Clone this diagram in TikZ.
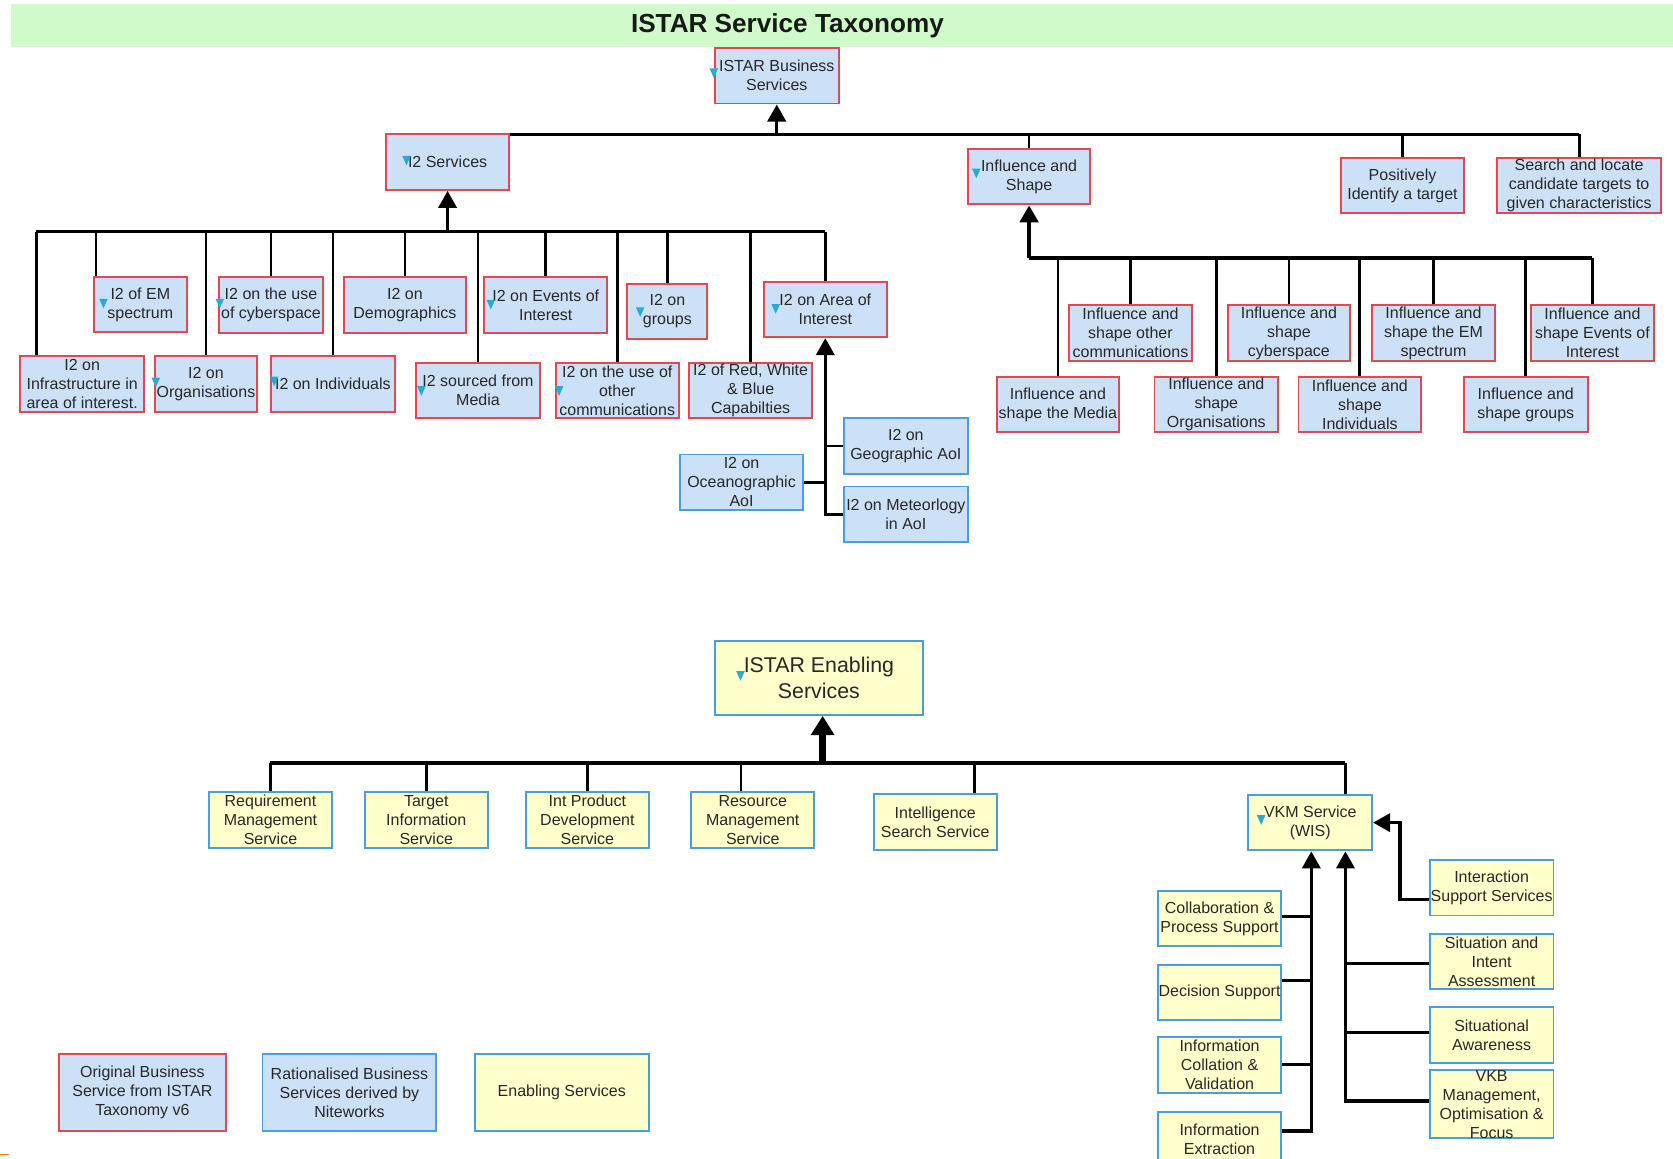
\documentclass[tikz,border=0pt]{standalone}
\usepackage{fontspec}
\setmainfont{Liberation Sans}
\usetikzlibrary{arrows.meta}
\definecolor{boxblue}{RGB}{204,224,247}
\definecolor{edgered}{RGB}{226,72,84}
\definecolor{edgeblue}{RGB}{74,158,224}
\definecolor{boxyellow}{RGB}{255,255,204}
\definecolor{banner}{RGB}{208,250,202}
\definecolor{cuecol}{RGB}{40,170,215}
\definecolor{ink}{RGB}{40,40,40}
% small cyan drop marker placed in front of a label
\newcommand\cue[2]{\fill[cuecol] (#1-4,#2-4) -- (#1+4,#2-4) -- (#1,#2+5) -- cycle;}
\begin{document}
\begin{tikzpicture}[x=1pt,y=-1pt,
  svc/.style={draw, line width=1.8pt, align=center, inner sep=0pt, minimum height=52pt,
              minimum width=115pt, text=ink, font=\fontsize{15}{17.8}\selectfont},
  orig/.style={svc, fill=boxblue, draw=edgered},
  rat/.style={svc, fill=boxblue, draw=edgeblue},
  enab/.style={svc, fill=boxyellow, draw=edgeblue},
  wire/.style={line width=2.6pt},
  busline/.style={line width=3.4pt},
  arr/.style={line width=3.2pt, -{Triangle[length=16pt,width=17pt]}},
  bigarr/.style={line width=6pt, -{Triangle[length=18pt,width=21pt]}},
]
\useasboundingbox (0,0) rectangle (1568,1086);

% title band
\node[fill=banner, minimum width=1558pt, minimum height=40pt, inner sep=0pt] (band) at (789,24) {};
\node[font=\fontsize{24.5}{28}\selectfont\bfseries, text=black!90] (title) at (738,24) {ISTAR Service Taxonomy};

% ---------- business services ----------
\node[orig, minimum width=116pt] (bus) at (728,71) {ISTAR Business\\Services};
\node[orig] (i2s) at (419.5,152) {I2 Services};
\node[orig] (ins) at (964.5,165.5) {Influence and\\Shape};
\node[orig] (pit) at (1314.5,174) {Positively\\Identify a target};
\node[orig, minimum width=154pt] (slc) at (1480,174) {Search and locate\\candidate targets to\\given characteristics};

\coordinate (topbus) at (728,126);
\draw[busline] (i2s.north east |- topbus) -- (slc.north |- topbus);
\draw[wire] (ins.north) -- (ins.north |- topbus);
\draw[wire] (pit.north) -- (pit.north |- topbus);
\draw[wire] (slc.north) -- (slc.north |- topbus);
\draw[arr] (topbus) -- (bus.south);

% I2 children
\node[orig, minimum width=87pt] (em) at (131.5,285.5) {I2 of EM\\spectrum};
\node[orig, minimum width=98pt] (cyb) at (254,286) {I2 on the use\\of cyberspace};
\node[orig] (dem) at (379.5,286) {I2 on\\Demographics};
\node[orig] (evt) at (511.5,286) {I2 on Events of\\Interest};
\node[orig, minimum width=75pt] (grp) at (625.5,292) {I2 on\\groups};
\node[orig] (aoi) at (773.5,290) {I2 on Area of\\Interest};
\node[orig, minimum width=116pt] (inf) at (77,360) {I2 on\\Infrastructure in\\area of interest.};
\node[orig, minimum width=96pt] (org) at (193,360) {I2 on\\Organisations};
\node[orig, minimum width=116pt] (ind) at (312,360) {I2 on Individuals};
\node[orig, minimum width=116pt] (med) at (448,366) {I2 sourced from\\Media};
\node[orig] (oth) at (578.5,366) {I2 on the use of\\other\\communications};
\node[orig] (rwb) at (703.5,366) {I2 of Red, White\\\& Blue\\Capabilties};

\coordinate (i2bus) at (419.5,217);
\coordinate (infc) at ([xshift=-43pt]inf.north);
\coordinate (emc) at ([xshift=-41.5pt]em.north);
\draw[busline] (infc |- i2bus) -- (aoi.north |- i2bus);
\draw[wire] (infc) -- (infc |- i2bus);
\draw[wire] (emc) -- (emc |- i2bus);
\foreach \n in {org,cyb,ind,dem,med,evt,oth,grp,rwb,aoi}
  \draw[wire] (\n.north) -- (\n.north |- i2bus);
\draw[arr] (i2bus) -- (i2s.south);

% area of interest breakdown
\node[rat, minimum width=116pt] (geo) at (849,418) {I2 on\\Geographic AoI};
\node[rat, minimum width=116pt] (oce) at (695,452) {I2 on\\Oceanographic\\AoI};
\node[rat, minimum width=116pt] (met) at (849,482) {I2 on Meteorlogy\\in AoI};
\draw[arr] (met.west) -| (aoi.south);
\draw[wire] (geo.west) -- (geo.west -| aoi.south);
\draw[wire] (oce.east) -- (oce.east -| aoi.south);

% influence and shape children
\node[orig] (ioc) at (1059.5,312) {Influence and\\shape other\\communications};
\node[orig] (icy) at (1208,312) {Influence and\\shape\\cyberspace};
\node[orig] (iem) at (1343.5,312) {Influence and\\shape the EM\\spectrum};
\node[orig] (iev) at (1492.5,312) {Influence and\\shape Events of\\Interest};
\node[orig] (imd) at (991.5,379) {Influence and\\shape the Media};
\node[orig, minimum width=116pt] (iog) at (1140,379) {Influence and\\shape\\Organisations};
\node[orig] (iid) at (1274.5,379) {Influence and\\shape\\Individuals};
\node[orig, minimum width=116pt] (igr) at (1430,379) {Influence and\\shape groups};

\coordinate (isbus) at (964.5,242);
\draw[line width=4.2pt] (isbus) -- (iev.north |- isbus);
\foreach \n in {imd,ioc,iog,icy,iid,iem,igr,iev}
  \draw[wire] (\n.north) -- (\n.north |- isbus);
\draw[arr, line width=4.2pt] (isbus) -- (ins.south);

% cue markers
\cue{669}{68}
\cue{381}{150}
\cue{915}{162}
\cue{97}{284}
\cue{206}{284}
\cue{460}{285}
\cue{600}{292}
\cue{727}{289}
\cue{146}{358}
\cue{257}{357}
\cue{395}{366}
\cue{524}{366}

% ---------- enabling services ----------
\node[enab, minimum width=195pt, minimum height=69pt, font=\fontsize{20}{24}\selectfont] (ena) at (767.5,635.5) {ISTAR Enabling\\Services};
\node[enab, minimum height=53pt] (req) at (253.5,768.5) {Requirement\\Management\\Service};
\node[enab, minimum height=53pt] (tgt) at (399.5,768.5) {Target\\Information\\Service};
\node[enab, minimum height=53pt] (ipd) at (550.5,768.5) {Int Product\\Development\\Service};
\node[enab, minimum height=53pt] (rsm) at (705.5,768.5) {Resource\\Management\\Service};
\node[enab] (iss) at (876.5,770.5) {Intelligence\\Search Service};
\node[enab, minimum width=116pt] (vkm) at (1228,771) {VKM Service\\(WIS)};
\cue{694}{633}
\cue{1182}{768}

\coordinate (enbus) at (771,715);
\coordinate (rsmc) at ([xshift=-11pt]rsm.north);
\coordinate (issc) at ([xshift=36.5pt]iss.north);
\coordinate (vkmc) at ([xshift=33pt]vkm.north);
\draw[busline] (req.north |- enbus) -- (vkmc |- enbus);
\foreach \n in {req,tgt,ipd}
  \draw[wire] (\n.north) -- (\n.north |- enbus);
\foreach \c in {rsmc,issc,vkmc}
  \draw[wire] (\c) -- (\c |- enbus);
\draw[bigarr] (enbus) -- (ena.south -| enbus);

% VKM breakdown
\node[enab, minimum width=116pt] (col) at (1143,861) {Collaboration \&\\Process Support};
\node[enab, minimum width=116pt] (dec) at (1143,930) {Decision Support};
\node[enab, minimum width=116pt] (icv) at (1143,998) {Information\\Collation \&\\Validation};
\node[enab, minimum width=116pt] (iex) at (1143,1068) {Information\\Extraction};
\node[enab, minimum width=116pt] (isv) at (1398,832) {Interaction\\Support Services};
\node[enab, minimum width=116pt] (sia) at (1398,901) {Situation and\\Intent\\Assessment};
\node[enab, minimum width=116pt] (saw) at (1398,970) {Situational\\Awareness};
\node[enab, minimum width=116pt] (vkb) at (1398,1035) {VKB\\Management,\\Optimisation \&\\Focus};

\coordinate (vl) at ([xshift=1pt]vkm.south);
\coordinate (vr) at ([xshift=33pt]vkm.south);
\coordinate (colp) at ([yshift=2pt]col.east);
\coordinate (decp) at ([yshift=11pt]dec.east);
\coordinate (iexp) at ([yshift=8pt]iex.east);
\coordinate (siap) at ([yshift=-2pt]sia.west);
\coordinate (sawp) at ([yshift=2pt]saw.west);
\coordinate (vkbp) at ([yshift=3pt]vkb.west);
\draw[arr] (iexp) -| (vl);
\draw[wire] (colp) -- (colp -| vl);
\draw[wire] (decp) -- (decp -| vl);
\draw[wire] (icv.east) -- (icv.east -| vl);
\draw[arr] (vkbp) -| (vr);
\draw[wire] (siap) -- (siap -| vr);
\draw[wire] (sawp) -- (sawp -| vr);
\draw[arr] ([yshift=-11pt]isv.west) -- ++(-27,0) |- (vkm.east);

% legend
\node[orig, minimum width=157pt, minimum height=72pt] (lgo) at (133.5,1024) {Original Business\\Service from ISTAR\\Taxonomy v6};
\node[rat, minimum width=163pt, minimum height=72pt] (lgr) at (327.5,1024) {Rationalised Business\\Services derived by\\Niteworks};
\node[enab, minimum width=163pt, minimum height=72pt] (lge) at (526.5,1024) {Enabling Services};
\draw[orange, line width=1.5pt] (0,1082) -- (8,1082);
\end{tikzpicture}
\end{document}
